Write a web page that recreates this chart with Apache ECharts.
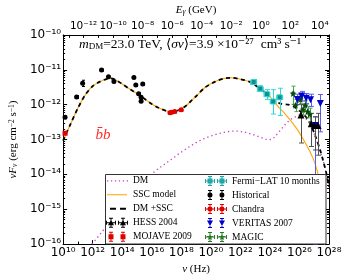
<!DOCTYPE html>
<html><head><meta charset="utf-8">
<script src="https://cdn.jsdelivr.net/npm/echarts@6/dist/echarts.min.js"></script>
<style>html,body{margin:0;padding:0;background:#fff}#c{width:348px;height:280px}</style>
</head><body><div id="c"></div>
<script>
// All values are log10(nu / Hz) and log10(nuFnu / erg cm^-2 s^-1)
const xTickVals = [10,12,14,16,18,20,22,24,26,28];
const topTickVals = [-12,-10,-8,-6,-4,-2,0,2,4];
const yTickVals = [-16,-15,-14,-13,-12,-11,-10];

const sscNu = [10.0,10.5,11.0,11.5,12.0,12.5,13.0,13.25,13.6,14.0,14.5,15.0,15.5,16.0,16.5,17.0,17.4,17.8,18.3,18.7,19.0,19.6,20.3,20.9,21.35,22.0,22.6,23.2,23.8,24.5,25.1,25.8,26.4,26.9,27.2,27.4,27.55,27.7];
const sscF  = [-13.03,-12.56,-12.1,-11.72,-11.47,-11.34,-11.26,-11.25,-11.3,-11.41,-11.55,-11.68,-11.83,-11.98,-12.1,-12.18,-12.2,-12.16,-12.04,-11.88,-11.76,-11.51,-11.34,-11.25,-11.23,-11.27,-11.34,-11.5,-11.68,-12.03,-12.3,-12.68,-13.1,-13.52,-13.89,-14.3,-15.0,-16.1];

const dmsscNu = [10.0,10.5,11.0,11.5,12.0,12.5,13.0,13.25,13.6,14.0,14.5,15.0,15.5,16.0,16.5,17.0,17.4,17.8,18.3,18.7,19.0,19.6,20.3,20.9,21.35,22.0,22.6,23.2,23.8,24.2,24.8,25.25,25.7,26.2,26.66,27.1,27.4,27.6,27.8,28.0];
const dmsscF  = [-13.03,-12.56,-12.1,-11.72,-11.47,-11.34,-11.26,-11.25,-11.3,-11.41,-11.55,-11.68,-11.83,-11.98,-12.1,-12.18,-12.2,-12.16,-12.04,-11.88,-11.76,-11.51,-11.34,-11.25,-11.23,-11.27,-11.34,-11.5,-11.7,-11.88,-11.98,-12.0,-12.08,-12.25,-12.48,-12.93,-13.3,-13.6,-13.93,-14.35];

const dmNu = [11.95,12.5,13.0,13.55,14.2,14.85,15.5,16.37,17.0,17.8,18.5,19.0,19.5,20.2,20.8,21.4,21.8,22.3,22.87,23.3,23.7,23.95,24.2,24.5,24.8,25.1,25.46,25.9,26.15,26.4,26.66,26.9,27.1,27.4,27.6,27.8,28.0];
const dmF  = [-16.0,-15.72,-15.45,-15.19,-14.82,-14.47,-14.17,-13.86,-13.67,-13.42,-13.22,-13.09,-12.98,-12.87,-12.8,-12.76,-12.76,-12.79,-12.86,-12.93,-12.99,-13.01,-12.98,-12.84,-12.69,-12.53,-12.41,-12.31,-12.3,-12.38,-12.52,-12.72,-12.95,-13.32,-13.6,-13.95,-14.35];

const histNu = [10.13,10.91,11.32,12.6,13.07,13.44,14.79,14.92,15.11,15.28,15.28,15.39];
const histF  = [-12.36,-11.78,-11.39,-11.01,-11.2,-11.34,-11.22,-11.44,-11.69,-11.79,-11.9,-11.41];
const histErr= [0.04,0.04,0.09,0.03,0.03,0.03,0.03,0.03,0.03,0.03,0.03,0.03];

const mojNu = [10.13];
const mojF  = [-12.82];
const mojErr= [0.04];

const chNu  = [17.23,17.36,17.56,17.99];
const chF   = [-12.23,-12.22,-12.2,-12.15];
const chXerr= [0.08,0.08,0.1,0.14];
const chErr = [0.03,0.03,0.03,0.03];

const fNu  = [22.9,23.35,23.8,24.22,24.66];
const fF   = [-11.35,-11.54,-11.7,-11.91,-11.79];
const fLo  = [-11.42,-11.62,-11.85,-12.27,-12.31];
const fHi  = [-11.28,-11.46,-11.57,-11.57,-11.53];
const fXerr= [0.2,0.2,0.2,0.2,0.2];

const mgNu = [25.57,25.74,26.05,26.24,26.4,26.55,26.7];
const mgF  = [-11.68,-12.02,-11.85,-12.14,-12.02,-12.2,-12.28];
const mgLo = [-11.99,-12.2,-12.0,-12.3,-12.18,-12.38,-12.5];
const mgHi = [-11.47,-11.85,-11.72,-12.0,-11.88,-12.05,-12.1];
const mgXerr=[0.08,0.08,0.08,0.08,0.08,0.08,0.08];

const vNu = [25.86,26.15,26.45,26.75,27.08,27.41];
const vF  = [-11.85,-11.75,-11.82,-11.86,-12.6,-11.97];
const vLo = [-12.0,-11.9,-11.97,-12.05,-16.0,-12.78];
const vHi = [-11.7,-11.62,-11.68,-11.7,-12.35,-11.71];

const hNu = [26.1,26.8,27.02,27.26];
const hF  = [-12.3,-12.55,-12.6,-12.6];
const hLo = [-13.1,-13.2,-13.3,-13.45];
const hHi = [-11.98,-12.25,-12.35,-12.25];
const hXerr=[0.05,0.05,0.05,0.05];

const SERIF = "'Liberation Serif','DejaVu Serif',serif";
const SANS = "'DejaVu Sans',sans-serif";
const LOG_H_GEV = Math.log10(4.135667e-24); // E[GeV] = h nu
const eMin = 10 + LOG_H_GEV, eMax = 28 + LOG_H_GEV;

const zip = (a,b) => a.map((v,i)=>[v,b[i]]);
const errData = (nu,F,lo,hi,xe) => nu.map((v,i)=>[v,F[i],lo[i],hi[i],xe?xe[i]:0]);

function errRender(color, cap){
  return function(params, api){
    const x=api.value(0), y=api.value(1), ylo=api.value(2), yhi=api.value(3), xe=api.value(4);
    const c=api.coord([x,y]);
    const cx=Math.round(c[0])+0.5, cy=Math.round(c[1])+0.5;
    const st={stroke:color,lineWidth:1};
    const ch=[];
    if (ylo!==yhi){
      const a=api.coord([x,ylo])[1], b=api.coord([x,yhi])[1];
      ch.push({type:'line',shape:{x1:cx,y1:a,x2:cx,y2:b},style:st});
      ch.push({type:'line',shape:{x1:cx-cap,y1:a,x2:cx+cap,y2:a},style:st});
      ch.push({type:'line',shape:{x1:cx-cap,y1:b,x2:cx+cap,y2:b},style:st});
    }
    if (xe>0){
      const l=api.coord([x-xe,y])[0], r=api.coord([x+xe,y])[0];
      ch.push({type:'line',shape:{x1:l,y1:cy,x2:r,y2:cy},style:st});
      ch.push({type:'line',shape:{x1:l,y1:cy-cap,x2:l,y2:cy+cap},style:st});
      ch.push({type:'line',shape:{x1:r,y1:cy-cap,x2:r,y2:cy+cap},style:st});
    }
    return {type:'group',children:ch};
  };
}
function errSeries(name,data,color,cap){
  return {type:'custom',name:name,data:data,renderItem:errRender(color,cap===undefined?2.5:cap),
    encode:{x:0,y:1},z:3,silent:true};
}

// legend icons
const BOX = 'M0 6h0.01v0.01h-0.01zM22 6h0.01v0.01h-0.01zM11 0h0.01v0.01h-0.01zM11 12h0.01v0.01h-0.01z';
function markerPath(m,cx,cy){
  if (m==='rect') return `M${cx-2.5} ${cy-2.5}h5v5h-5z`;
  if (m==='circle') return `M${cx-2.5} ${cy}A2.5 2.5 0 1 1 ${cx+2.5} ${cy}A2.5 2.5 0 1 1 ${cx-2.5} ${cy}z`;
  if (m==='tri') return `M${cx} ${cy-3}L${cx+3} ${cy+2.5}L${cx-3} ${cy+2.5}z`;
  if (m==='dtri') return `M${cx-3} ${cy-2.5}L${cx+3} ${cy-2.5}L${cx} ${cy+3}z`;
  if (m==='star') return `M${cx} ${cy-3.5}L${cx+1} ${cy-1.1}L${cx+3.4} ${cy-1}L${cx+1.4} ${cy+0.5}L${cx+2.1} ${cy+3}L${cx} ${cy+1.5}L${cx-2.1} ${cy+3}L${cx-1.4} ${cy+0.5}L${cx-3.4} ${cy-1}L${cx-1} ${cy-1.1}z`;
  return '';
}
function iconPath(m,withX){
  let p=BOX;
  for (const cx of [5,17]){
    const cy=6;
    p+=`M${cx-0.5} 1h1v10h-1z`;
    p+=`M${cx-2} 1h4v1h-4zM${cx-2} 10h4v1h-4z`;
    if (withX) p+=`M${cx-5} ${cy-0.5}h10v1h-10zM${cx-5} ${cy-2}h1v4h-1zM${cx+4} ${cy-2}h1v4h-1z`;
    p+=markerPath(m,cx,cy);
  }
  return 'path://'+p;
}
function dotIcon(){ let p=BOX; for(let x=1;x<22;x+=4) p+=`M${x} 5.4h1.3v1.3h-1.3z`; return 'path://'+p; }
const solidIcon = 'path://'+BOX+'M1 5.5h20v1h-20z';
const dashIcon = 'path://'+BOX+'M4 5h6v2h-6zM14 5h6v2h-6z';

const SUP = {'0':'\u2070','1':'\u00b9','2':'\u00b2','3':'\u00b3','4':'\u2074','5':'\u2075','6':'\u2076','7':'\u2077','8':'\u2078','9':'\u2079','-':'\u207b'};
const supFmt = v => '10' + String(Math.round(v)).split('').map(ch=>SUP[ch]).join('');
const labStyle = {fontSize:12,fontFamily:SANS,color:'#000'};

const yMinor = [];
for (let d=-16; d<-10; d++) for (let k=2;k<=9;k++) yMinor.push(d+Math.log10(k));
const topMinor = [];
for (let d=-13; d<=4; d++) topMinor.push(d);

const axisLineStyle = {show:true,onZero:false,lineStyle:{color:'#000',width:1}};
const nameRich = {
  i:{fontFamily:SERIF,fontStyle:'italic',fontSize:11,color:'#000'},
  n:{fontFamily:SERIF,fontSize:11,color:'#000'},
  sub:{fontFamily:SERIF,fontStyle:'italic',fontSize:7.5,color:'#000',verticalAlign:'bottom'},
  sup:{fontFamily:SERIF,fontSize:7.5,color:'#000',verticalAlign:'top'}
};

const chart = echarts.init(document.getElementById('c'),null,{renderer:'canvas'});
chart.setOption({
  animation:false,
  backgroundColor:'#fff',
  grid:{left:52,right:19,top:30,bottom:34,containLabel:false},
  xAxis:[
    {type:'value',position:'bottom',min:10,max:28,interval:2,
     axisLine:axisLineStyle,splitLine:{show:false},
     axisTick:{inside:true,length:4,lineStyle:{color:'#000'}},
     minorTick:{show:true,splitNumber:2,length:2.5,lineStyle:{color:'#000'}},
     axisLabel:Object.assign({formatter:supFmt,margin:3},labStyle),
     name:'{i|ν}{n| (Hz)}',nameLocation:'middle',nameGap:17,nameTextStyle:{rich:nameRich}},
    {type:'value',position:'top',min:eMin,max:eMax,
     axisLine:axisLineStyle,splitLine:{show:false},
     axisTick:{inside:true,length:3,customValues:topMinor,lineStyle:{color:'#000'}},
     axisLabel:Object.assign({formatter:supFmt,margin:3,customValues:topTickVals,showMinLabel:true,showMaxLabel:true,hideOverlap:false},labStyle,{fontSize:10.5}),
     name:'{i|E}{sub|γ}{n| (GeV)}',nameLocation:'middle',nameGap:16,nameTextStyle:{rich:nameRich}}
  ],
  yAxis:[
    {type:'value',position:'left',min:-16,max:-10,interval:1,
     axisLine:axisLineStyle,splitLine:{show:false},
     axisTick:{inside:true,length:4,lineStyle:{color:'#000'}},
     axisLabel:Object.assign({formatter:supFmt,margin:2},labStyle),
     name:'{i|νF}{sub|ν}{n| (erg cm}{sup|−2}{n| s}{sup|−1}{n|)}',nameLocation:'middle',nameGap:36,nameRotate:90,
     nameTextStyle:{rich:nameRich}},
    {type:'value',position:'right',min:-16,max:-10,interval:1,
     axisLine:axisLineStyle,splitLine:{show:false},axisLabel:{show:false},
     axisTick:{inside:true,length:4,lineStyle:{color:'#000'}}},
    {type:'value',position:'left',min:-16,max:-10,
     axisLine:{show:false,onZero:false},splitLine:{show:false},axisLabel:{show:false},
     axisTick:{inside:true,length:2,customValues:yMinor,lineStyle:{color:'#000'}}},
    {type:'value',position:'right',min:-16,max:-10,
     axisLine:{show:false,onZero:false},splitLine:{show:false},axisLabel:{show:false},
     axisTick:{inside:true,length:2,customValues:yMinor,lineStyle:{color:'#000'}}}
  ],
  legend:[
    {z:20,orient:'vertical',left:106,top:175,padding:0,itemGap:2,itemWidth:22,itemHeight:12,
     textStyle:{fontFamily:SERIF,fontSize:9.5,color:'#000'},
     data:[{name:'DM',icon:dotIcon()},{name:'SSC model',icon:solidIcon},{name:'DM +SSC',icon:dashIcon},
       {name:'HESS 2004',icon:iconPath('tri',true)},
       {name:'MOJAVE 2009',icon:iconPath('rect',false)}]},
    {z:20,orient:'vertical',left:205,top:175,padding:0,itemGap:2,itemWidth:22,itemHeight:12,
     textStyle:{fontFamily:SERIF,fontSize:9.5,color:'#000'},
     data:[{name:'Fermi\u2212LAT 10 months',icon:iconPath('rect',true),itemStyle:{borderWidth:0,color:'#1aa8a8'}},
       {name:'Historical',icon:iconPath('circle',false)},
       {name:'Chandra',icon:iconPath('circle',true)},
       {name:'VERITAS 2007',icon:iconPath('dtri',false)},
       {name:'MAGIC',icon:iconPath('star',true),itemStyle:{color:'#2a7a2a'}}]}
  ],
  graphic:[
    {type:'rect',z:15,shape:{x:105.5,y:174.5,width:220.5,height:69.5},
     style:{fill:'#fff',stroke:'#333',lineWidth:1}},
    {type:'text',z:15,x:190,y:44,style:{
      text:'{i|m}{s|DM}{n|=23.0 TeV, ⟨}{i|σv}{n|⟩=3.9 ×10⁻²⁷  cm³ s⁻¹}',
      align:'center',verticalAlign:'middle',
      rich:{i:{fontFamily:SERIF,fontStyle:'italic',fontSize:13.5,fill:'#000'},
            n:{fontFamily:SERIF,fontSize:13.5,fill:'#000'},
            s:{fontFamily:SERIF,fontSize:9,fill:'#000',padding:[6,0,0,0]}}}},
    {type:'text',z:15,x:103,y:135,style:{text:'b\u0304b',align:'center',verticalAlign:'middle',
      font:"italic 15px 'Liberation Serif', serif",fill:'#ff2a2a'}}
  ],
  series:[
    {type:'line',name:'DM',data:zip(dmNu,dmF),symbol:'none',showSymbol:false,z:2,
     lineStyle:{color:'#c040c0',width:1.3,type:[1.3,3]},itemStyle:{color:'#c040c0'}},
    {type:'line',name:'SSC model',data:zip(sscNu,sscF),symbol:'none',showSymbol:false,smooth:0.3,z:2,
     lineStyle:{color:'#ffa500',width:1.1},itemStyle:{color:'#ffa500'}},
    {type:'line',name:'DM +SSC',data:zip(dmsscNu,dmsscF),symbol:'none',showSymbol:false,smooth:0.3,z:2,
     lineStyle:{color:'#000',width:1.8,type:[4,3.5]},itemStyle:{color:'#000'}},

    errSeries('e_hist',errData(histNu,histF,histF.map((v,i)=>v-histErr[i]),histF.map((v,i)=>v+histErr[i])),'#000',1.5),
    {type:'scatter',name:'Historical',data:zip(histNu,histF),symbol:'circle',symbolSize:5,z:4,itemStyle:{color:'#000',opacity:1}},

    errSeries('e_moj',errData(mojNu,mojF,mojF.map((v,i)=>v-mojErr[i]),mojF.map((v,i)=>v+mojErr[i])),'#ff7f7f',2),
    {type:'scatter',name:'MOJAVE 2009',data:zip(mojNu,mojF),symbol:'rect',symbolSize:5,z:4,itemStyle:{color:'#e00000',opacity:1}},

    errSeries('e_ch',errData(chNu,chF,chF.map((v,i)=>v-chErr[i]),chF.map((v,i)=>v+chErr[i]),chXerr),'#ff6060',1.5),
    {type:'scatter',name:'Chandra',data:zip(chNu,chF),symbol:'circle',symbolSize:5,z:4,itemStyle:{color:'#e00000',opacity:1}},

    errSeries('e_fermi',errData(fNu,fF,fLo,fHi,fXerr),'#30d8d8',2.5),
    {type:'scatter',name:'Fermi\u2212LAT 10 months',data:zip(fNu,fF),symbol:'rect',symbolSize:5,z:4,
     itemStyle:{color:'#148c8c',borderColor:'#30d8d8',borderWidth:1,opacity:1}},

    errSeries('e_magic',errData(mgNu,mgF,mgLo,mgHi,mgXerr),'#4ca04c',2),
    {type:'scatter',name:'MAGIC',data:zip(mgNu,mgF),symbol:'path://M0,-5L1.4,-1.6L4.8,-1.5L2,0.7L3,4.2L0,2.2L-3,4.2L-2,0.7L-4.8,-1.5L-1.4,-1.6Z',
     symbolSize:7,z:4,itemStyle:{color:'#0a4a0a',opacity:1}},

    errSeries('e_ver',errData(vNu,vF,vLo,vHi),'#5a5aff',2.5),
    {type:'scatter',name:'VERITAS 2007',data:zip(vNu,vF),symbol:'triangle',symbolRotate:180,symbolSize:7,z:4,
     itemStyle:{color:'#0000c8',opacity:1}},

    errSeries('e_hess',errData(hNu,hF,hLo,hHi,hXerr),'#505050',2.5),
    {type:'scatter',name:'HESS 2004',data:zip(hNu,hF),symbol:'triangle',symbolSize:7,z:4,itemStyle:{color:'#000',opacity:1}}
  ]
});
</script></body></html>
